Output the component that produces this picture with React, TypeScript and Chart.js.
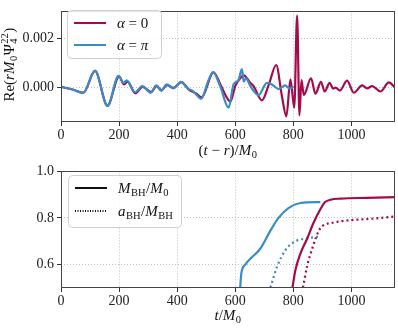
import React, { useEffect, useRef } from 'react';
import { Chart, registerables } from 'chart.js';
Chart.register(...registerables);

const RED = '#A50B4C';
const BLUE = '#3A8CC6';
const FONT = '"Liberation Serif", "DejaVu Serif", serif';

// Top panel: Re(r M0 Psi4^22) vs (t - r)/M0
const blueT = [0, 40, 77, 117, 160, 198, 215, 226, 255, 280, 309, 328, 345, 364, 387, 413, 439, 452, 468, 482, 508, 523, 548, 577, 594, 611, 623, 629, 637, 652, 680, 709, 726, 749, 772, 787, 801];
const blueV = [0.00003, -0.00008, -0.00021, 0.00069, -0.00075, 0.00048, 0.00019, 0.00029, -0.00019, 0.00006, -0.00021, 0.00009, -0.00013, 0.00013, -0.00003, 0.00023, -0.00006, -0.00012, -0.00031, -0.00046, 0.0003, 0.00063, 0.00006, -0.00082, 0.00013, 0.00031, 0.00075, 0.00025, 0.00038, 0.00006, -0.00031, 0.00019, 0.00013, -0.00006, 0.00009, -0.00004, 0.00003];
const redT = [0, 40, 77, 117, 160, 200, 217, 229, 256, 281, 310, 329, 346, 365, 388, 414, 440, 468, 484, 525, 550, 566, 583, 600, 617, 629, 652, 663, 692, 715, 741, 760, 776, 790, 803, 813, 821, 828, 836, 861, 876, 895, 908, 925, 937, 945, 960, 985, 1008, 1037, 1054, 1071, 1100, 1129, 1150];
const redV = [0.00003, -0.00008, -0.00021, 0.00068, -0.00073, 0.00045, 0.00013, 0.00024, -0.00023, 0.00003, -0.00018, 0.00006, -0.0001, 0.0001, -0.00001, 0.00022, -0.00008, -0.00026, -0.0004, 0.00062, 0.0001, -0.0003, -0.00057, 0.00006, 0.00038, 0.0005, 0.00019, 0.00006, -0.00052, 0.0001, 0.00092, -0.0003, -0.00117, 0.00034, -0.00082, 0.00293, -0.00113, 0.0003, -0.0003, 0.00038, -0.00025, 0.00023, -0.00016, 0.00019, -0.00004, 0.0, -0.00012, 0.00028, -0.00021, 0.00009, -0.00003, 0.00006, -0.00016, 0.00021, 0.0];

// Bottom panel: M_BH/M0 (solid) and a_BH/M_BH (dotted)
const blueMassT = [617, 620, 623, 635, 652, 686, 721, 749, 784, 824, 893];
const blueMassV = [0.5, 0.55, 0.574, 0.6, 0.624, 0.667, 0.745, 0.8, 0.843, 0.864, 0.868];
const redMassT = [797, 807, 824, 847, 870, 893, 910, 962, 1054, 1150];
const redMassV = [0.5, 0.574, 0.645, 0.709, 0.78, 0.837, 0.869, 0.883, 0.886, 0.889];
const blueSpinT = [721, 744, 772, 801, 847, 893];
const blueSpinV = [0.5, 0.59, 0.66, 0.695, 0.712, 0.72];
const redSpinT = [833, 847, 870, 887, 899, 939, 997, 1077, 1150];
const redSpinV = [0.5, 0.59, 0.687, 0.743, 0.764, 0.78, 0.79, 0.797, 0.806];

const xTicks = [0, 200, 400, 600, 800, 1000];
const topYTicks = [0, 0.002];
const botYTicks = [0.6, 0.8, 1.0];

type Seg = { t: string; it?: boolean; sub?: string; sup?: string };

function fnt(size: number, it?: boolean) {
  return `${it ? 'italic ' : ''}${size}px ${FONT}`;
}
function segWidth(ctx: CanvasRenderingContext2D, s: Seg, size: number) {
  ctx.font = fnt(size, s.it);
  let w = ctx.measureText(s.t).width;
  let sw = 0;
  ctx.font = fnt(size * 0.7);
  if (s.sub) sw = Math.max(sw, ctx.measureText(s.sub).width);
  if (s.sup) sw = Math.max(sw, ctx.measureText(s.sup).width);
  return w + sw + (sw ? 1 : 0);
}
function drawRich(ctx: CanvasRenderingContext2D, segs: Seg[], x: number, cy: number, size: number, align: 'left' | 'center') {
  let total = 0;
  for (const s of segs) total += segWidth(ctx, s, size);
  let cx = align === 'center' ? x - total / 2 : x;
  const base = cy + size * 0.33;
  ctx.save();
  ctx.fillStyle = '#111';
  ctx.textBaseline = 'alphabetic';
  ctx.textAlign = 'left';
  for (const s of segs) {
    ctx.font = fnt(size, s.it);
    ctx.fillText(s.t, cx, base);
    const w = ctx.measureText(s.t).width;
    cx += w;
    ctx.font = fnt(size * 0.7);
    let sw = 0;
    if (s.sub) {
      ctx.fillText(s.sub, cx + 0.5, base + size * 0.22);
      sw = Math.max(sw, ctx.measureText(s.sub).width);
    }
    if (s.sup) {
      ctx.fillText(s.sup, cx + 0.5, base - size * 0.42);
      sw = Math.max(sw, ctx.measureText(s.sup).width);
    }
    cx += sw + (sw ? 1 : 0);
  }
  ctx.restore();
}

type LegendItem = { color: string; dash: number[]; label: Seg[] };
type Deco = {
  xTitle: Seg[];
  xTitleY: number;
  yTitle?: Seg[];
  yTitleX?: number;
  legend: { x: number; y: number; w: number; h: number; items: LegendItem[]; rowH: number };
};

function decoPlugin(d: Deco) {
  return {
    id: 'deco',
    afterDraw(chart: any) {
      const ctx: CanvasRenderingContext2D = chart.ctx;
      const a = chart.chartArea;
      ctx.save();
      ctx.strokeStyle = '#444';
      ctx.lineWidth = 1;
      ctx.strokeRect(Math.round(a.left) + 0.5, Math.round(a.top) + 0.5, Math.round(a.right - a.left) - 1, Math.round(a.bottom - a.top) - 1);
      ctx.restore();
      drawRich(ctx, d.xTitle, (a.left + a.right) / 2, d.xTitleY, 15, 'center');
      if (d.yTitle) {
        ctx.save();
        ctx.translate(d.yTitleX || 10, (a.top + a.bottom) / 2 - 2);
        ctx.rotate(-Math.PI / 2);
        drawRich(ctx, d.yTitle, 0, 0, 15, 'center');
        ctx.restore();
      }
      const L = d.legend;
      ctx.save();
      ctx.beginPath();
      (ctx as any).roundRect(L.x + 0.5, L.y + 0.5, L.w, L.h, 4);
      ctx.fillStyle = 'rgba(255,255,255,0.85)';
      ctx.fill();
      ctx.strokeStyle = '#d0d0d0';
      ctx.lineWidth = 1;
      ctx.stroke();
      L.items.forEach((it, i) => {
        const cy = L.y + 13 + i * L.rowH;
        ctx.beginPath();
        ctx.setLineDash(it.dash);
        ctx.strokeStyle = it.color;
        ctx.lineWidth = 2;
        ctx.moveTo(L.x + 7, cy);
        ctx.lineTo(L.x + 39, cy);
        ctx.stroke();
        ctx.setLineDash([]);
        drawRich(ctx, it.label, L.x + 50, cy, 15, 'left');
      });
      ctx.restore();
    },
  };
}

function pts(t: number[], v: number[]) {
  return t.map((x, i) => ({ x, y: v[i] }));
}

function axes(yMin: number, yMax: number, yTicks: number[], yFmt: (v: number) => string, xH: number) {
  const grid = {
    color: '#b0b0b0',
    lineWidth: 0.8,
    tickColor: '#333',
    tickLength: 4,
    tickWidth: 1,
    tickBorderDash: [],
  };
  const border = { display: false, dash: [1, 2] };
  return {
    x: {
      type: 'linear',
      min: 0,
      max: 1150,
      afterBuildTicks: (s: any) => {
        s.ticks = xTicks.map((v) => ({ value: v }));
      },
      afterFit: (s: any) => {
        s.height = xH;
      },
      grid,
      border,
      ticks: { color: '#222', font: { family: FONT, size: 14 }, padding: 1, maxRotation: 0, callback: (v: any) => String(v) },
    },
    y: {
      type: 'linear',
      min: yMin,
      max: yMax,
      afterBuildTicks: (s: any) => {
        s.ticks = yTicks.map((v) => ({ value: v }));
      },
      afterFit: (s: any) => {
        s.width = 61;
      },
      grid,
      border,
      ticks: { color: '#222', font: { family: FONT, size: 14 }, padding: 3, callback: (v: any) => yFmt(Number(v)) },
    },
  };
}

export default function App() {
  const topRef = useRef<HTMLCanvasElement>(null);
  const botRef = useRef<HTMLCanvasElement>(null);

  useEffect(() => {
    const line = (data: any, color: string, dash: number[] = []) => ({
      data,
      borderColor: color,
      borderWidth: 2.2,
      borderDash: dash,
      pointRadius: 0,
      fill: false,
      cubicInterpolationMode: 'monotone',
    });

    const top = new Chart(topRef.current!, {
      type: 'line',
      data: {
        datasets: [line(pts(blueT, blueV), BLUE), line(pts(redT, redV), RED)] as any,
      },
      options: {
        responsive: false,
        animation: false,
        layout: { padding: { top: 3, right: 3, left: 0, bottom: 0 } },
        plugins: { legend: { display: false }, tooltip: { enabled: false } },
        scales: axes(-0.0014, 0.0031, topYTicks, (v) => v.toFixed(3), 38) as any,
      },
      plugins: [
        decoPlugin({
          xTitle: [{ t: '(' }, { t: 't', it: true }, { t: ' − ' }, { t: 'r', it: true }, { t: ')/' }, { t: 'M', it: true, sub: '0' }],
          xTitleY: 150,
          yTitle: [{ t: 'Re(' }, { t: 'r', it: true }, { t: 'M', it: true, sub: '0' }, { t: 'Ψ', sub: '4', sup: '22' }, { t: ')' }],
          yTitleX: 9,
          legend: {
            x: 67,
            y: 10,
            w: 94,
            h: 48,
            rowH: 22,
            items: [
              { color: RED, dash: [], label: [{ t: 'α', it: true }, { t: ' = 0' }] },
              { color: BLUE, dash: [], label: [{ t: 'α', it: true }, { t: ' = ' }, { t: 'π', it: true }] },
            ],
          },
        }),
      ],
    } as any);

    const bot = new Chart(botRef.current!, {
      type: 'line',
      data: {
        datasets: [
          line(pts(blueMassT, blueMassV), BLUE),
          line(pts(redMassT, redMassV), RED),
          line(pts(blueSpinT, blueSpinV), BLUE, [2, 3]),
          line(pts(redSpinT, redSpinV), RED, [2, 3]),
        ] as any,
      },
      options: {
        responsive: false,
        animation: false,
        layout: { padding: { top: 9, right: 3, left: 0, bottom: 0 } },
        plugins: { legend: { display: false }, tooltip: { enabled: false } },
        scales: axes(0.498, 1.0, botYTicks, (v) => v.toFixed(1), 42) as any,
      },
      plugins: [
        decoPlugin({
          xTitle: [{ t: 't', it: true }, { t: '/' }, { t: 'M', it: true, sub: '0' }],
          xTitleY: 155,
          legend: {
            x: 68,
            y: 15,
            w: 113,
            h: 52,
            rowH: 23,
            items: [
              { color: '#111', dash: [], label: [{ t: 'M', it: true, sub: 'BH' }, { t: '/' }, { t: 'M', it: true, sub: '0' }] },
              { color: '#111', dash: [1, 1.5], label: [{ t: 'a', it: true, sub: 'BH' }, { t: '/' }, { t: 'M', it: true, sub: 'BH' }] },
            ],
          },
        }),
      ],
    } as any);

    return () => {
      top.destroy();
      bot.destroy();
    };
  }, []);

  return (
    <div style={{ position: 'fixed', left: 0, top: 0, width: 398, height: 330, background: '#fff' }}>
      <canvas ref={topRef} width={398} height={160} style={{ position: 'absolute', left: 0, top: 0, width: 398, height: 160 }} />
      <canvas ref={botRef} width={398} height={170} style={{ position: 'absolute', left: 0, top: 160, width: 398, height: 170 }} />
    </div>
  );
}
